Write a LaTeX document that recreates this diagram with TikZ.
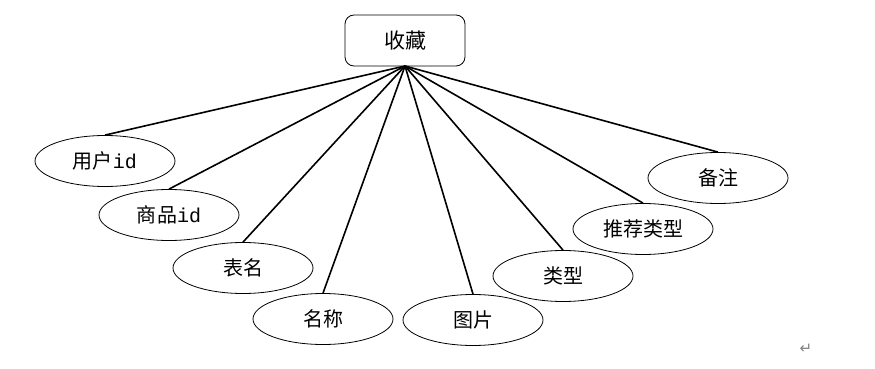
\documentclass[tikz,border=0pt]{standalone}
\usepackage{fontspec}
\setmainfont{Liberation Serif}
\newfontfamily\cjk{Noto Sans CJK SC}
\newfontfamily\monolat{Liberation Mono}
\newfontfamily\dejavu{DejaVu Sans}
\usetikzlibrary{shapes.geometric}
\begin{document}
\begin{tikzpicture}[x=1pt,y=-1pt,
  entbox/.style={draw, rounded corners=9pt, minimum width=120pt, minimum height=51pt, line width=0.8pt, font=\cjk\fontsize{21}{24}\selectfont, inner sep=0pt},
  attr/.style={draw, ellipse, minimum width=140pt, minimum height=51pt, line width=0.8pt, font=\cjk\fontsize{20}{23}\selectfont, inner sep=0pt},
  link/.style={line width=1.6pt}]
\useasboundingbox (0,0) rectangle (875,369);
\node[entbox] (e) at (405,40.5) {收藏};
\coordinate (hub) at (405,66);
\node[attr] (a1) at (105,161) {用户{\monolat id}};
\node[attr] (a2) at (169,215) {商品{\monolat id}};
\node[attr] (a3) at (243,268) {表名};
\node[attr] (a4) at (323,319) {名称};
\node[attr] (a5) at (473,320) {图片};
\node[attr] (a6) at (563,276) {类型};
\node[attr] (a7) at (643,229) {推荐类型};
\node[attr] (a8) at (718,178) {备注};
\foreach \n in {a1,a2,a3,a4,a5,a6,a7,a8}
  \draw[link] (hub) -- (\n.north);
\node[font=\dejavu\fontsize{15}{17}\selectfont, text=gray] (ret) at (806,349) {↵};
\end{tikzpicture}
\end{document}
